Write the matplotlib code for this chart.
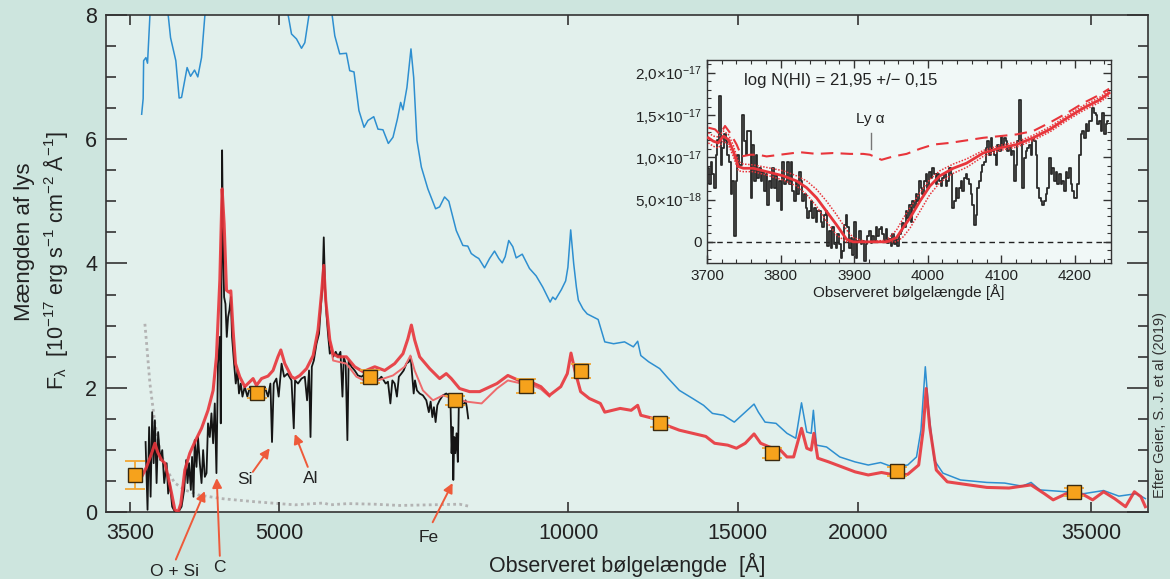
import numpy as np
import matplotlib
matplotlib.use('Agg')
import matplotlib.pyplot as plt
from matplotlib.ticker import FixedLocator, FixedFormatter, NullLocator, MultipleLocator

plt.rcParams['font.family'] = ['Liberation Sans', 'DejaVu Sans']
plt.rcParams['mathtext.fontset'] = 'custom'
plt.rcParams['mathtext.rm'] = 'Liberation Sans'
plt.rcParams['mathtext.it'] = 'Liberation Sans:italic'
plt.rcParams['mathtext.bf'] = 'Liberation Sans:bold'

# ---------------- data: main panel (wavelength in Å, flux in 1e-17 units) ----
black_lam = [3634, 3651, 3665, 3678, 3692, 3705, 3716, 3731, 3745, 3764,
             3782, 3800, 3822, 3836, 3852, 3873, 3898, 3929, 3961, 3986,
             4005, 4018, 4033, 4050, 4062, 4076, 4088, 4105, 4120, 4138,
             4155, 4171, 4188, 4205, 4220, 4238, 4255, 4272, 4289, 4306,
             4322, 4341, 4351, 4365, 4375, 4386, 4400, 4414, 4428, 4442,
             4457, 4470, 4492, 4510, 4528, 4545, 4564, 4583, 4608, 4637,
             4667, 4701, 4739, 4788, 4834, 4872, 4900, 4919, 4939, 4971,
             4998, 5033, 5064, 5105, 5154, 5182, 5198, 5235, 5279, 5321,
             5350, 5375, 5394, 5411, 5437, 5472, 5505, 5532, 5551, 5568,
             5585, 5604, 5625, 5649, 5672, 5694, 5730, 5761, 5795, 5823,
             5841, 5868, 5892, 5910, 5949, 5996, 6043, 6094, 6156, 6216,
             6291, 6340, 6392, 6458, 6493, 6531, 6562, 6598, 6634, 6665,
             6705, 6742, 6786, 6827, 6856, 6884, 6906, 6927, 6960, 7005,
             7060, 7118, 7161, 7192, 7222, 7249, 7278, 7308, 7348, 7406,
             7466, 7512, 7544, 7562, 7580, 7593, 7611, 7629, 7652, 7676,
             7694, 7740, 7782, 7819, 7843, 7869]
black_flux = [1.13, 0.04, 1.37, 0.25, 1.61, 0.79, 1.48, 0.47, 1.29, 0.84,
              1.00, 0.47, 0.79, 0.30, 0.47, 0.09, 0.01, 0.00, 0.09, 0.36,
              0.84, 0.47, 0.79, 0.36, 0.89, 0.25, 1.16, 0.73, 1.21, 0.79,
              0.47, 1.00, 0.57, 0.63, 1.43, 1.21, 1.59, 1.11, 1.75, 0.63,
              2.39, 2.82, 1.43, 5.82, 4.26, 3.46, 3.35, 2.82, 3.14, 3.25,
              3.46, 2.82, 2.39, 2.07, 2.28, 1.91, 2.07, 1.86, 2.02, 1.86,
              2.02, 1.91, 1.99, 1.86, 2.02, 1.86, 2.07, 1.13, 2.07, 2.15,
              1.86, 2.39, 2.18, 2.23, 2.12, 1.35, 2.12, 2.07, 2.15, 2.18,
              1.80, 2.28, 1.21, 2.34, 2.44, 2.71, 2.87, 3.35, 3.62, 4.42,
              3.62, 3.19, 2.87, 2.55, 2.61, 2.50, 2.58, 2.50, 2.58, 1.86,
              2.50, 2.39, 1.16, 2.44, 2.34, 2.28, 2.20, 2.18, 2.23, 2.18,
              2.26, 2.12, 2.18, 2.07, 2.10, 1.75, 2.12, 2.07, 1.86, 2.18,
              2.23, 2.28, 2.39, 2.42, 2.50, 2.18, 1.91, 2.12, 1.96, 1.91,
              1.88, 1.80, 1.61, 1.78, 1.53, 1.69, 1.45, 1.72, 1.80, 1.88,
              1.91, 1.88, 1.69, 0.95, 1.37, 0.52, 1.21, 0.95, 1.27, 0.81,
              1.72, 1.78, 1.72, 1.80, 1.69, 1.51]

blue_lam = [3600, 3613, 3617, 3637, 3651, 3672, 3700, 3800, 3836, 3858,
            3907, 3938, 3961, 4014, 4047, 4086, 4118, 4155, 4188, 4300,
            4800, 5112, 5154, 5216, 5279, 5321, 5375, 5500, 5680, 5717,
            5785, 5878, 5925, 5986, 6057, 6132, 6190, 6276, 6340, 6416,
            6499, 6572, 6641, 6694, 6731, 6795, 6861, 6906, 6960, 7034,
            7144, 7278, 7348, 7436, 7512, 7647, 7769, 7861, 7927, 8009,
            8071, 8183, 8282, 8381, 8467, 8537, 8598, 8671, 8756, 8827,
            8956, 9113, 9260, 9407, 9575, 9635, 9697, 9836, 9937, 9991,
            10058, 10130, 10196, 10244, 10358, 10462, 10741, 10913, 11146, 11442,
            11686, 11808, 11897, 12122, 12447, 12710, 13048, 13469, 13827, 14123,
            14499, 14881, 15278, 15603, 15766, 16018, 16445, 16882, 17243, 17481,
            17702, 17891, 17985, 18117, 18561, 19158, 19875, 20511, 21125, 21736,
            22543, 23023, 23269, 23513, 23718, 24020, 24526, 25580, 27245, 28433,
            29660, 30289, 30940, 32958, 34370, 36037, 37381, 38994, 39826]
blue_flux = [6.40, 6.65, 7.26, 7.31, 7.22, 7.99, 8.6, 8.6, 8.0, 7.63,
             7.26, 6.66, 6.67, 7.15, 7.01, 7.11, 7.00, 7.31, 7.98, 8.8,
             9.2, 8.0, 7.69, 7.61, 7.46, 7.55, 8.0, 8.5, 8.0, 7.66,
             7.37, 7.38, 7.10, 7.08, 6.46, 6.19, 6.30, 6.36, 6.16, 6.15,
             5.93, 6.03, 6.32, 6.59, 6.47, 6.83, 7.45, 6.99, 5.98, 5.55,
             5.20, 4.88, 4.91, 5.07, 5.00, 4.53, 4.29, 4.28, 4.16, 4.11,
             4.08, 3.93, 4.08, 4.20, 4.08, 4.01, 4.11, 4.37, 4.27, 4.09,
             4.15, 3.92, 3.80, 3.62, 3.38, 3.46, 3.42, 3.58, 3.72, 3.94,
             4.54, 4.00, 3.62, 3.41, 3.27, 3.19, 3.10, 2.74, 2.71, 2.74,
             2.66, 2.75, 2.52, 2.42, 2.31, 2.15, 1.96, 1.83, 1.72, 1.59,
             1.56, 1.45, 1.61, 1.74, 1.61, 1.45, 1.43, 1.27, 1.19, 1.76,
             1.29, 1.27, 1.64, 1.08, 1.05, 0.89, 0.81, 0.76, 0.80, 0.73,
             0.76, 0.89, 1.32, 2.34, 1.59, 0.84, 0.63, 0.52, 0.48, 0.47,
             0.42, 0.48, 0.36, 0.33, 0.30, 0.35, 0.26, 0.30, 0.22]

red_lam = [3600, 3643, 3687, 3716, 3740, 3776, 3806, 3836, 3868, 3898,
           3929, 3954, 3992, 4040, 4088, 4155, 4220, 4272, 4306, 4341,
           4365, 4386, 4411, 4435, 4457, 4481, 4507, 4553, 4608, 4664,
           4701, 4739, 4797, 4872, 4931, 4989, 5024, 5072, 5154, 5195,
           5258, 5343, 5428, 5492, 5538, 5568, 5594, 5649, 5694, 5761,
           5878, 5996, 6117, 6291, 6442, 6598, 6731, 6811, 6868, 6922,
           7005, 7175, 7348, 7466, 7557, 7708, 7895, 8086, 8429, 8653,
           8883, 9122, 9365, 9559, 9822, 9977, 10065, 10159, 10300, 10516,
           10799, 10913, 11323, 11625, 11808, 11897, 12252, 12644, 13048, 13469,
           13900, 14196, 14647, 14959, 15278, 15603, 15852, 16189, 16620, 16882,
           17154, 17481, 17702, 17891, 18006, 18174, 18657, 19258, 19875, 20511,
           21172, 21850, 22543, 23143, 23392, 23563, 23763, 24139, 24782, 26118,
           27245, 28730, 30289, 31268, 31935, 32958, 34370, 35102, 36037, 36998,
           37983, 38791, 39408, 39826]
red_flux = [0.57, 0.73, 0.95, 1.11, 0.97, 0.84, 0.79, 0.57, 0.30, 0.04,
            0.01, 0.14, 0.68, 0.95, 1.13, 1.35, 1.64, 1.96, 2.50, 3.73,
            5.20, 4.64, 3.57, 3.54, 3.56, 2.93, 2.39, 2.18, 2.02, 2.10,
            2.15, 2.04, 2.15, 2.19, 2.28, 2.50, 2.61, 2.39, 2.18, 2.15,
            2.20, 2.31, 2.52, 2.93, 3.52, 3.97, 3.41, 2.77, 2.55, 2.50,
            2.50, 2.34, 2.26, 2.34, 2.28, 2.39, 2.55, 2.79, 3.01, 2.77,
            2.50, 2.31, 2.15, 2.23, 2.15, 1.99, 1.94, 1.94, 2.07, 2.20,
            2.12, 2.10, 2.02, 1.88, 2.02, 2.23, 2.56, 2.28, 1.94, 1.83,
            1.75, 1.61, 1.67, 1.64, 1.72, 1.56, 1.51, 1.40, 1.32, 1.27,
            1.22, 1.11, 1.08, 1.03, 1.11, 1.26, 1.11, 1.05, 1.00, 0.89,
            0.89, 1.35, 1.03, 1.00, 1.27, 0.87, 0.81, 0.73, 0.65, 0.60,
            0.64, 0.60, 0.61, 0.76, 1.32, 1.99, 1.37, 0.68, 0.49, 0.44,
            0.40, 0.39, 0.44, 0.30, 0.20, 0.30, 0.28, 0.20, 0.33, 0.22,
            0.09, 0.33, 0.25, 0.09]

red2_lam = [5649, 5694, 5878, 6020, 6167, 6366, 6572, 6758, 6852, 6922, 7060,
            7232, 7406, 7585, 7832, 8125, 8429, 8653, 8883, 9122, 9365, 9559]
red2_flux = [2.77, 2.44, 2.39, 2.18, 2.10, 2.13, 2.20, 2.34, 2.52, 2.28, 1.96,
             1.80, 1.88, 1.83, 1.78, 1.75, 1.99, 2.12, 2.08, 2.06, 1.98, 1.86]

err_lam = [3628, 3643, 3672, 3716, 3761, 3822, 3898, 3992, 4120, 4359,
           4720, 5195, 5570, 5649, 5900, 6291, 6678, 7708, 7869]
err_flux = [3.03, 2.71, 2.07, 1.43, 1.00, 0.68, 0.47, 0.36, 0.28, 0.22,
            0.17, 0.12, 0.15, 0.12, 0.14, 0.13, 0.11, 0.13, 0.10]

phot_lam = [3540, 4745, 6218, 7626, 9044, 10300, 12462, 16280, 21980, 33600]
phot_flux = [0.60, 1.91, 2.18, 1.80, 2.03, 2.27, 1.44, 0.95, 0.66, 0.33]
phot_err = [0.22, 0.07, 0.10, 0.07, 0.11, 0.11, 0.07, 0.08, 0.07, 0.06]

x_ticks = [3500, 5000, 10000, 15000, 20000, 35000]
x_ticklabels = ['3500', '5000', '10000', '15000', '20000', '35000']

# annotations: label, text position, arrow tail, arrow head (Å, flux)
ann_labels = ['O + Si', 'C', 'Si', 'Al', 'Fe']
ann_text = [(3898, -0.95), (4341, -0.89), (4608, 0.52), (5398, 0.55), (7156, -0.41)]
ann_tail = [(3907, -0.76), (4341, -0.70), (4698, 0.65), (5359, 0.73), (7227, -0.16)]
ann_head = [(4188, 0.34), (4309, 0.55), (4892, 1.03), (5195, 1.26), (7580, 0.47)]

# ---------------- data: inset (flux in units of 1e-17) ----------------------
inset_flux = [0.87, 0.68, 0.95, 0.80, 0.64, 1.03, 1.21, 1.72, 0.91, 1.11,
              1.27, 1.19, 1.03, 0.95, 0.56, 0.72, 0.07, 0.72, 1.03, 0.91,
              0.91, 1.50, 1.19, 1.03, 1.31, 1.31, 0.52, 1.15, 0.72, 1.03,
              0.76, 0.87, 0.72, 0.83, 0.60, 0.80, 0.44, 0.72, 0.64, 0.87,
              0.64, 0.80, 0.48, 0.72, 0.38, 0.95, 0.68, 0.72, 0.95, 0.68,
              0.95, 0.60, 0.48, 0.72, 0.56, 0.82, 0.72, 0.48, 0.56, 0.40,
              0.28, 0.36, 0.48, 0.28, 0.40, 0.24, 0.36, 0.36, 0.24, 0.17,
              0.32, 0.36, -0.05, 0.13, -0.07, 0.17, -0.03, -0.07, 0.09, -0.03,
              -0.19, -0.11, 0.20, 0.32, 0.17, -0.07, 0.05, -0.15, 0.24, -0.19,
              0.01, 0.13, -0.03, 0.01, -0.23, -0.03, 0.07, 0.13, -0.01, 0.07,
              0.01, 0.17, 0.07, 0.15, 0.17, 0.09, 0.01, 0.15, -0.01, 0.03,
              -0.05, 0.09, -0.03, 0.03, -0.05, 0.09, 0.13, 0.22, 0.17, 0.36,
              0.28, 0.44, 0.24, 0.48, 0.40, 0.56, 0.48, 0.72, 0.64, 0.56,
              0.72, 0.80, 0.64, 0.83, 0.76, 0.87, 0.80, 0.68, 0.80, 0.72,
              0.66, 0.76, 0.80, 0.66, 0.72, 0.87, 0.80, 0.40, 0.48, 0.64,
              0.52, 0.64, 0.72, 0.60, 0.76, 0.80, 0.74, 0.68, 0.56, 0.44,
              0.20, 0.32, 0.64, 0.72, 0.83, 0.91, 0.95, 1.11, 1.19, 1.03,
              1.23, 1.07, 1.03, 0.91, 1.15, 1.07, 1.25, 1.15, 1.23, 1.19,
              1.07, 1.13, 1.03, 1.07, 0.72, 0.91, 1.19, 1.68, 1.19, 0.64,
              0.99, 1.07, 1.11, 1.15, 1.03, 1.23, 1.19, 1.03, 0.64, 0.52,
              0.48, 0.44, 0.48, 0.56, 0.64, 0.99, 0.80, 0.87, 0.72, 0.83,
              0.68, 0.80, 0.68, 0.72, 0.60, 0.83, 0.76, 0.87, 0.68, 0.60,
              0.52, 0.52, 0.68, 1.03, 1.27, 1.31, 1.23, 1.39, 1.31, 1.43,
              1.43, 1.58, 1.52, 1.50, 1.39, 1.43, 1.31, 1.52, 1.27, 1.39,
              1.43]
inset_first_bin, inset_last_bin = 3701.8, 4245.1

model_lam = [3701.8, 3708.6, 3715.4, 3722.2, 3729.0, 3735.8, 3742.6, 3749.4, 3762.9, 3781.0,
             3803.7, 3821.8, 3835.4, 3848.9, 3862.5, 3876.1, 3889.7, 3898.7, 3916.8, 3944.0,
             3957.6, 3966.7, 3975.7, 3989.3, 4002.9, 4016.4, 4034.6, 4052.7, 4075.3, 4097.9,
             4120.6, 4143.2, 4165.9, 4188.5, 4211.1, 4233.7, 4246.4]
model_flux = [1.23, 1.19, 1.17, 1.25, 1.21, 1.07, 0.89, 0.87, 0.87, 0.83,
              0.78, 0.72, 0.64, 0.52, 0.36, 0.20, 0.03, 0.0, 0.0, 0.0,
              0.05, 0.17, 0.28, 0.48, 0.66, 0.78, 0.87, 0.93, 1.05, 1.11,
              1.15, 1.23, 1.33, 1.46, 1.58, 1.68, 1.76]
model_hi = [1.29, 1.25, 1.24, 1.31, 1.27, 1.14, 0.95, 0.92, 0.91, 0.88,
            0.84, 0.78, 0.72, 0.62, 0.48, 0.32, 0.14, 0.05, 0.0, 0.02,
            0.14, 0.28, 0.40, 0.58, 0.74, 0.84, 0.92, 0.98, 1.08, 1.14,
            1.18, 1.26, 1.36, 1.49, 1.61, 1.71, 1.79]
model_lo = [1.17, 1.13, 1.11, 1.19, 1.15, 1.01, 0.84, 0.83, 0.83, 0.79,
            0.73, 0.66, 0.56, 0.42, 0.24, 0.08, 0.0, 0.0, 0.0, 0.0,
            0.0, 0.06, 0.16, 0.36, 0.56, 0.70, 0.81, 0.88, 1.01, 1.08,
            1.12, 1.20, 1.30, 1.43, 1.55, 1.65, 1.73]

cont_lam = [3701.8, 3710.9, 3717.7, 3724.5, 3731.2, 3740.3, 3747.1, 3758.4, 3769.7, 3781.0,
            3799.2, 3826.3, 3848.9, 3871.6, 3894.2, 3912.3, 3921.4, 3937.2, 3953.1, 3971.2,
            3989.3, 4007.4, 4030.0, 4052.7, 4075.3, 4097.9, 4120.6, 4143.2, 4165.9, 4188.5,
            4211.1, 4233.7, 4246.4]
cont_flux = [1.35, 1.33, 1.27, 1.37, 1.29, 1.15, 1.01, 1.03, 1.03, 1.01,
             1.03, 1.06, 1.04, 1.05, 1.04, 1.04, 1.03, 0.97, 1.01, 1.04,
             1.10, 1.15, 1.17, 1.20, 1.23, 1.25, 1.27, 1.31, 1.41, 1.52,
             1.64, 1.74, 1.81]

inset_xticks = [3700, 3800, 3900, 4000, 4100, 4200]
inset_yticks = [0, 0.5, 1.0, 1.5, 2.0]
inset_yticklabels = ['0', r'5,0$\times$10$^{-18}$', r'1,0$\times$10$^{-17}$',
                     r'1,5$\times$10$^{-17}$', r'2,0$\times$10$^{-17}$']
lya_lam = 3922.3

# ---------------- styling ----------------------------------------------------
BG_OUT = '#cde5de'
BG_IN = '#e2f0ec'
BG_INSET = '#f1f8f7'
C_BLUE = '#2e8fd0'
C_RED = '#e8353b'
C_RED2 = '#ee6b6d'
C_BLACK = '#151515'
C_GRAY = '#b3b3b3'
C_ORANGE = '#f6a21c'
C_ARROW = '#ee5a3a'
C_AX = '#333333'
C_TXT = '#222222'

fig = plt.figure(figsize=(11.7, 5.79), dpi=100)
fig.patch.set_facecolor(BG_OUT)
ax = fig.add_axes([105.7 / 1170, 1 - 512.3 / 579, 1042 / 1170, 497.6 / 579])
ax.set_facecolor(BG_IN)
ax.set_xscale('log')

ax.plot(err_lam, err_flux, color=C_GRAY, lw=2.0, ls=(0, (1, 1.2)), zorder=1)
ax.plot(blue_lam, blue_flux, color=C_BLUE, lw=1.1, zorder=2)
ax.plot(black_lam, black_flux, color=C_BLACK, lw=1.3, zorder=3)
ax.plot(red2_lam, red2_flux, color=C_RED2, lw=1.4, zorder=4)
ax.plot(red_lam, red_flux, color=C_RED, lw=2.2, alpha=0.9, zorder=5)
ax.errorbar(phot_lam, phot_flux, yerr=phot_err, fmt='none', ecolor='#f2a634',
            elinewidth=1.3, capsize=7, capthick=1.3, zorder=6)
ax.plot(phot_lam, phot_flux, ls='none', marker='s', ms=9.5, mfc=C_ORANGE,
        mec='#3a2a10', mew=1.0, zorder=7)

for lab, tpos, tail, head in zip(ann_labels, ann_text, ann_tail, ann_head):
    ax.annotate('', xy=head, xytext=tail,
                arrowprops=dict(arrowstyle='-|>', color=C_ARROW, lw=1.4,
                                mutation_scale=14, shrinkA=0, shrinkB=0),
                annotation_clip=False, zorder=8)
    ax.text(tpos[0], tpos[1], lab, ha='center', va='center', fontsize=12.5,
            color=C_TXT, clip_on=False)

ax.set_xlim(3303, 40050)
ax.set_ylim(0, 8)
ax.xaxis.set_major_locator(FixedLocator(x_ticks))
ax.xaxis.set_major_formatter(FixedFormatter(x_ticklabels))
ax.xaxis.set_minor_locator(NullLocator())
ax.yaxis.set_major_locator(MultipleLocator(2))
ax.yaxis.set_minor_locator(MultipleLocator(0.5))
ax.tick_params(axis='x', which='major', direction='in', length=7, width=1.2,
               top=True, labelsize=15.5, pad=8, color=C_AX, labelcolor=C_TXT)
ax.tick_params(axis='y', which='major', direction='in', length=15, width=1.2,
               right=True, labelsize=15.5, pad=6, color=C_AX, labelcolor=C_TXT)
ax.tick_params(axis='y', which='minor', direction='in', length=7, width=1.2,
               right=True, color=C_AX)
for s in ax.spines.values():
    s.set_color(C_AX)
    s.set_linewidth(1.2)

fig.text(627 / 1170, 1 - 565 / 579, 'Observeret bølgelængde  [Å]', ha='center',
         va='center', fontsize=15.5, color=C_TXT)
fig.text(25 / 1170, 1 - 242 / 579, 'Mængden af lys', rotation=90, ha='center',
         va='center', fontsize=16, color=C_TXT)
fig.text(55 / 1170, 1 - 261 / 579,
         r'F$_{\mathregular{λ}}$  [10$^{-17}$ erg s$^{-1}$ cm$^{-2}$ Å$^{-1}$]',
         rotation=90, ha='center', va='center', fontsize=15.5, color=C_TXT)
fig.text(1160 / 1170, 1 - 405 / 579, 'Efter Geier, S. J. et al (2019)', rotation=90,
         ha='center', va='center', fontsize=10.5, color='#333333')

# ---------------- inset ------------------------------------------------------
axin = fig.add_axes([707 / 1170, 1 - 263 / 579, 404 / 1170, 203 / 579])
axin.set_facecolor(BG_INSET)
S = 1e-17
inset_lam = np.linspace(inset_first_bin, inset_last_bin, len(inset_flux))
axin.axhline(0, color='#222222', lw=1.0, ls=(0, (4, 3)), zorder=1)
axin.step(inset_lam, np.array(inset_flux) * S, where='mid', color='#2a2a2a',
          lw=1.3, zorder=2)
axin.plot(cont_lam, np.array(cont_flux) * S, color=C_RED, lw=1.5,
          ls=(0, (6, 3.5)), zorder=3)
axin.plot(model_lam, np.array(model_hi) * S, color=C_RED, lw=1.1, ls=(0, (1, 1)), zorder=3)
axin.plot(model_lam, np.array(model_lo) * S, color=C_RED, lw=1.1, ls=(0, (1, 1)), zorder=3)
axin.plot(model_lam, np.array(model_flux) * S, color=C_RED, lw=2.0, zorder=4)
axin.plot([lya_lam, lya_lam], [1.10 * S, 1.29 * S], color='#777777', lw=1.0)
axin.text(lya_lam, 1.45 * S, 'Ly α', ha='center', va='center',
          fontsize=11, color=C_TXT)
axin.text(0.33, 0.90, 'log N(HI) = 21,95 +/− 0,15', transform=axin.transAxes,
          ha='center', va='center', fontsize=12, color=C_TXT)

axin.set_xlim(3700, 4249)
axin.set_ylim(-0.25 * S, 2.15 * S)
axin.xaxis.set_major_locator(FixedLocator(inset_xticks))
axin.xaxis.set_minor_locator(MultipleLocator(20))
axin.yaxis.set_major_locator(FixedLocator([v * S for v in inset_yticks]))
axin.yaxis.set_major_formatter(FixedFormatter(inset_yticklabels))
axin.yaxis.set_minor_locator(MultipleLocator(0.1 * S))
axin.tick_params(which='major', direction='in', length=6, width=1.0, top=True,
                 right=True, labelsize=11, pad=4, color=C_AX, labelcolor=C_TXT)
axin.tick_params(which='minor', direction='in', length=3, width=0.8, top=True,
                 right=True, color=C_AX)
axin.set_xlabel('Observeret bølgelængde [Å]', fontsize=11, labelpad=1, color=C_TXT)
for s in axin.spines.values():
    s.set_color(C_AX)
    s.set_linewidth(1.0)

fig.savefig('out.png', dpi=100, facecolor=BG_OUT)
